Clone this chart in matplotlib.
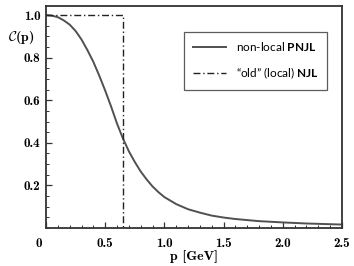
import numpy as np
import matplotlib
matplotlib.use('Agg')
import matplotlib.pyplot as plt
from matplotlib.ticker import MultipleLocator, FixedLocator
from matplotlib.transforms import ScaledTranslation

# non-local PNJL form factor C(p)
p_vals = [0.0, 0.05, 0.1, 0.15, 0.2, 0.25, 0.3, 0.35, 0.4, 0.45, 0.5, 0.55, 0.6,
          0.65, 0.7, 0.75, 0.8, 0.85, 0.9, 0.95, 1.0, 1.1, 1.2, 1.3, 1.4, 1.5,
          1.6, 1.8, 2.0, 2.2, 2.5]
c_vals = [1.0, 0.997, 0.99, 0.975, 0.955, 0.925, 0.885, 0.835, 0.78, 0.715, 0.645, 0.57, 0.49,
          0.42, 0.36, 0.31, 0.265, 0.228, 0.195, 0.168, 0.145, 0.112, 0.088, 0.072, 0.058, 0.049,
          0.042, 0.032, 0.026, 0.021, 0.016]

# "old" local NJL: sharp cutoff
cutoff = 0.65
p_local = [0.0, cutoff, cutoff]
c_local = [1.0, 1.0, 0.0]

x_ticks = [0, 0.5, 1.0, 1.5, 2.0, 2.5]
x_labels = ['0', '0.5', '1.0', '1.5', '2.0', '2.5']
y_ticks = [0.2, 0.4, 0.6, 0.8, 1.0]
y_labels = ['0.2', '0.4', '0.6', '0.8', '1.0']

plt.rcParams['mathtext.fontset'] = 'custom'
plt.rcParams['mathtext.rm'] = 'Lato'
plt.rcParams['mathtext.bf'] = 'Lato:bold'
plt.rcParams['mathtext.cal'] = 'cmsy10'

fig = plt.figure(figsize=(3.54, 2.66), dpi=100)
ax = fig.add_axes([0.130, 0.143, 0.836, 0.834])

ax.plot(p_vals, c_vals, color='#505050', lw=1.4, label=r'non-local $\mathbf{PNJL}$')
ax.plot(p_local, c_local, color='#222222', lw=1.0, linestyle=(0, (5, 2, 1, 2)),
        label=r'“old” (local) $\mathbf{NJL}$')

ax.set_xlim(0, 2.5)
ax.set_ylim(0, 1.042)

ax.xaxis.set_major_locator(FixedLocator(x_ticks))
ax.set_xticklabels(x_labels, fontfamily='cmb10', fontsize=9.5)
ax.yaxis.set_major_locator(FixedLocator(y_ticks))
ax.set_yticklabels(y_labels, fontfamily='cmb10', fontsize=9.5)
ax.xaxis.set_minor_locator(MultipleLocator(0.1))
ax.yaxis.set_minor_locator(MultipleLocator(0.05))
ax.tick_params(which='both', direction='in', top=False, right=False, color='#333333')
ax.tick_params(which='major', length=4, width=0.9)
ax.tick_params(axis='x', which='major', pad=7)
ax.tick_params(axis='y', which='major', pad=4)
ax.tick_params(which='minor', length=2, width=0.7)

# origin label sits a bit left of the axis
lab0 = ax.xaxis.get_major_ticks()[0].label1
lab0.set_transform(lab0.get_transform() + ScaledTranslation(-5 / 72, 0, fig.dpi_scale_trans))

for s in ax.spines.values():
    s.set_linewidth(1.3)
    s.set_color('#333333')

ax.set_xlabel('p [GeV]', fontfamily='cmb10', fontsize=10, labelpad=0)
ax.text(-0.084, 0.86, r'$\mathcal{C}$(p)', transform=ax.transAxes, fontfamily='cmb10',
        fontsize=10, ha='center', va='center')

leg = ax.legend(loc='upper right', bbox_to_anchor=(0.95, 0.885), prop={'family': 'Lato', 'size': 8.5},
                fancybox=False, edgecolor='#333333', handlelength=2.8, borderpad=0.75,
                labelspacing=1.0, handletextpad=0.8, borderaxespad=0)
leg.get_frame().set_linewidth(0.9)

fig.savefig('out.png', dpi=100)
